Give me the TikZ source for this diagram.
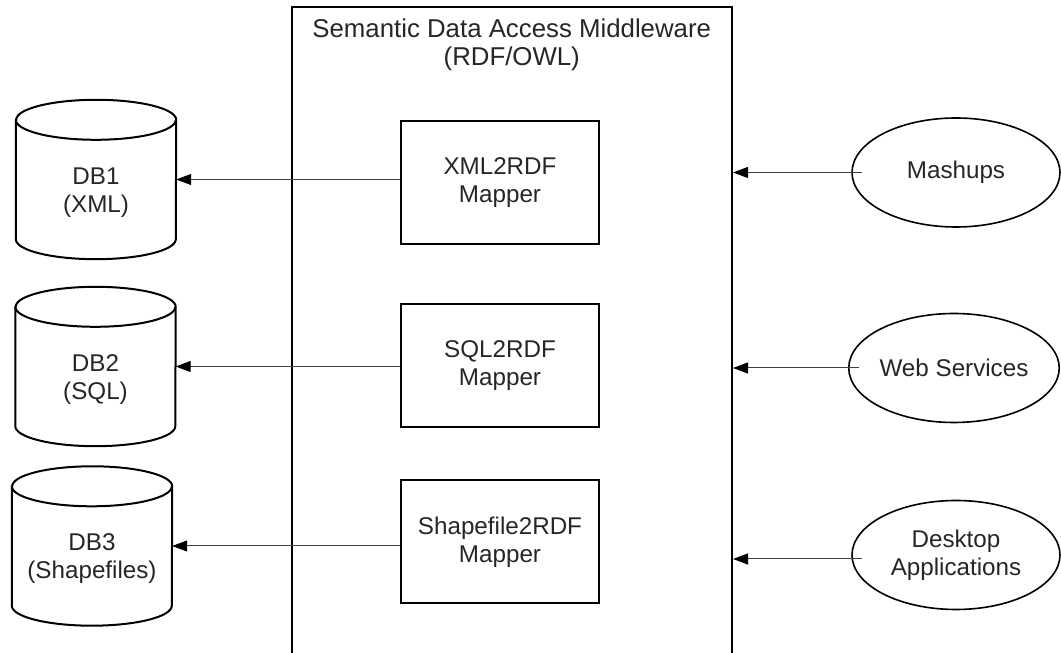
\documentclass[tikz,border=0pt]{standalone}
\usepackage{fontspec}
\setmainfont{Liberation Sans}
\usetikzlibrary{arrows.meta,shapes.geometric,calc}
\begin{document}
\begin{tikzpicture}[x=1pt,y=1pt,
  lbl/.style={font=\fontsize{24.2pt}{28pt}\selectfont, align=center, text=black!85},
  box/.style={draw, line width=2pt, minimum width=198pt, minimum height=123pt, lbl},
  cylbody/.style={draw=none, minimum width=160pt, minimum height=159pt, inner sep=0pt},
  ell/.style={draw, line width=1.6pt, ellipse, minimum width=208pt, minimum height=109pt, inner sep=0pt, lbl},
  conn/.style={line width=1pt, black!75, -{Triangle[length=15pt,width=11pt,black]}},
  cylline/.style={line width=2pt}]
\useasboundingbox (0,0) rectangle (1061,653);
% middleware
\node[draw, line width=2pt, minimum width=440.5pt, minimum height=680pt, anchor=north, inner sep=0pt] (mw) at (511.75,647) {};
\node[lbl, font=\fontsize{25.8pt}{28pt}\selectfont] (title) at (511.75,608) {Semantic Data Access Middleware\\(RDF/OWL)};
% mappers
\node[box] (x1) at (500,470) {XML2RDF\\Mapper};
\node[box] (x2) at (500,287.5) {SQL2RDF\\Mapper};
\node[box] (x3) at (500,111) {Shapefile2RDF\\Mapper};
% cylinders
\node[cylbody] (db1) at (96,473.5) {};
\node[cylbody] (db2) at (95.5,286.5) {};
\node[cylbody] (db3) at (92,107) {};
\foreach \d in {db1,db2,db3}{
  \draw[cylline, fill=white] ([yshift=-20pt]\d.north west) -- ([yshift=20pt]\d.south west)
     arc[start angle=180, end angle=360, x radius=80pt, y radius=20pt]
     -- ([yshift=-20pt]\d.north east)
     arc[start angle=0, end angle=180, x radius=80pt, y radius=20pt] -- cycle;
  \draw[cylline] ([yshift=-20pt]\d.north west)
     arc[start angle=180, end angle=360, x radius=80pt, y radius=20pt];
}
\node[lbl] (db1t) at ([yshift=-13pt]db1.center) {DB1\\(XML)};
\node[lbl] (db2t) at ([yshift=-13pt]db2.center) {DB2\\(SQL)};
\node[lbl] (db3t) at ([yshift=-13pt]db3.center) {DB3\\(Shapefiles)};
% clients
\node[ell] (m1) at (956,480.5) {Mashups};
\node[ell] (m2) at (954,285) {Web Services};
\node[ell] (m3) at (956,98) {Desktop\\Applications};
% connectors
\draw[conn] (db1.east -| x1.west) -- (db1.east);
\draw[conn] (db2.east -| x2.west) -- (db2.east);
\draw[conn] (db3.east -| x3.west) -- (db3.east);
\draw[conn] ([xshift=11pt]m1.west) -- (m1.west -| mw.east);
\draw[conn] ([xshift=11pt]m2.west) -- (m2.west -| mw.east);
\draw[conn] ([xshift=11pt,yshift=-4pt]m3.west) -- ([yshift=-4pt]m3.west -| mw.east);
\end{tikzpicture}
\end{document}
